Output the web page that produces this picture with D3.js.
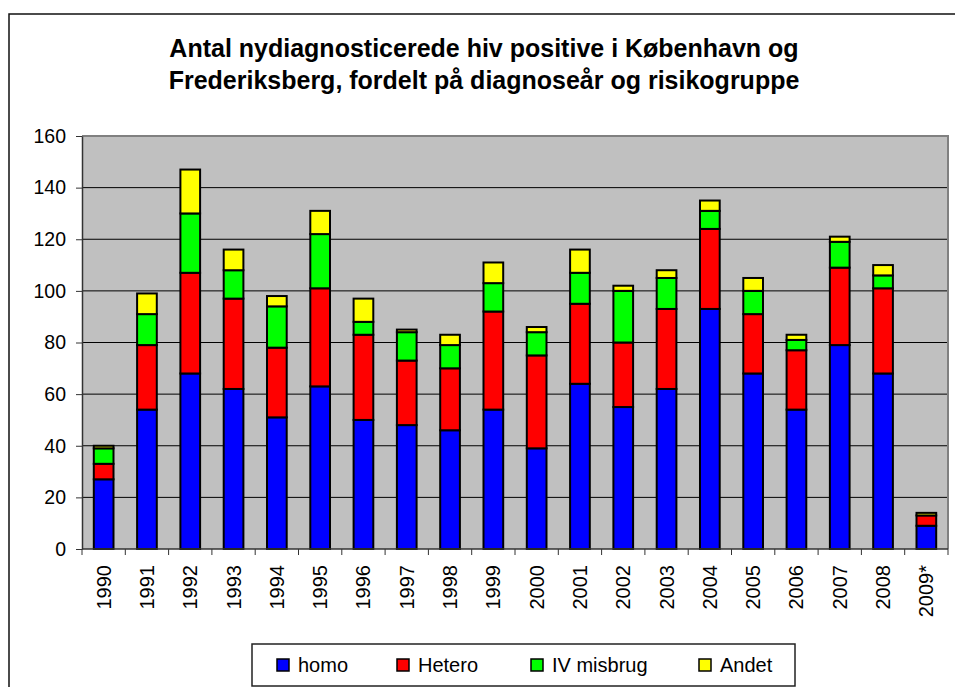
<!DOCTYPE html>
<html>
<head>
<meta charset="utf-8">
<script src="https://cdn.jsdelivr.net/npm/d3@7"></script>
<style>
  body { margin: 0; background: #fff; }
  text { font-family: Arial, "Liberation Sans", sans-serif; }
</style>
</head>
<body>
<div id="chart"></div>
<script>
// diagnoseår
var years = ["1990","1991","1992","1993","1994","1995","1996","1997","1998","1999",
             "2000","2001","2002","2003","2004","2005","2006","2007","2008","2009*"];
var homo   = [27,54,68,62,51,63,50,48,46,54,39,64,55,62,93,68,54,79,68,9];
var hetero = [6,25,39,35,27,38,33,25,24,38,36,31,25,31,31,23,23,30,33,4];
var ivMisbrug = [6,12,23,11,16,21,5,11,9,11,9,12,20,12,7,9,4,10,5,0];
var andet  = [1,8,17,8,4,9,9,1,4,8,2,9,2,3,4,5,2,2,4,1];
var seriesNames = ["homo","Hetero","IV misbrug","Andet"];
var yTicks = [0,20,40,60,80,100,120,140,160];
var titleLines = ["Antal nydiagnosticerede hiv positive i København og",
                  "Frederiksberg, fordelt på diagnoseår og risikogruppe"];

var W = 955, H = 687;
var margin = { left: 82, right: 7, top: 136, bottom: 138 };
var width = W - margin.left - margin.right;
var height = H - margin.top - margin.bottom;

var svg = d3.select("#chart").append("svg")
    .attr("width", W)
    .attr("height", H);

// outer chart frame
svg.append("rect")
    .attr("x", 9).attr("y", 14)
    .attr("width", W + 20).attr("height", H + 20)
    .attr("fill", "white")
    .attr("stroke", "#111").attr("stroke-width", 1.5);

var title = svg.append("text")
    .attr("x", 484).attr("y", 57)
    .attr("text-anchor", "middle")
    .attr("font-size", "25px")
    .attr("font-weight", "bold");
titleLines.forEach(function(t, i) {
  title.append("tspan").attr("x", 484).attr("dy", i == 0 ? 0 : 32).text(t);
});

var rows = years.map(function(y, i) {
  return { year: y, homo: homo[i], Hetero: hetero[i], "IV misbrug": ivMisbrug[i], Andet: andet[i] };
});

var color = d3.scaleOrdinal()
    .domain(seriesNames)
    .range(["#0000FF","#FF0000","#00FF00","#FFFF00"]);

var x = d3.scaleBand()
    .domain(years)
    .range([0, width])
    .paddingInner(0.545)
    .paddingOuter(0.2725);

var y = d3.scaleLinear()
    .domain([0, 160])
    .range([height, 0]);

var g = svg.append("g")
    .attr("transform", "translate(" + margin.left + "," + margin.top + ")");

g.append("rect")
    .attr("width", width).attr("height", height)
    .attr("fill", "#C0C0C0");

// gridlines
g.selectAll(".grid")
    .data(yTicks.filter(function(d) { return d > 0 && d < 160; }))
    .enter().append("line")
    .attr("class", "grid")
    .attr("x1", 0).attr("x2", width)
    .attr("y1", function(d) { return y(d); })
    .attr("y2", function(d) { return y(d); })
    .attr("stroke", "#000").attr("stroke-width", 1);

// plot border top/right in gray
g.append("path")
    .attr("d", "M0,0H" + width + "V" + height)
    .attr("fill", "none")
    .attr("stroke", "#808080").attr("stroke-width", 2);

var stack = d3.stack().keys(seriesNames);
var stacked = stack(rows);

g.selectAll(".serie")
    .data(stacked)
    .enter().append("g")
    .attr("class", "serie")
    .attr("fill", function(d) { return color(d.key); })
  .selectAll("rect")
    .data(function(d) { return d.filter(function(p) { return p[1] - p[0] > 0; }); })
    .enter().append("rect")
    .attr("x", function(d) { return x(d.data.year); })
    .attr("width", x.bandwidth())
    .attr("y", function(d) { return y(d[1]); })
    .attr("height", function(d) { return y(d[0]) - y(d[1]); })
    .attr("stroke", "#000").attr("stroke-width", 2);

// y axis
var yAxis = g.append("g")
    .call(d3.axisLeft(y).tickValues(yTicks).tickSize(6).tickSizeOuter(0));
yAxis.select(".domain").attr("stroke", "#333").attr("stroke-width", 1.5);
yAxis.selectAll(".tick line").attr("stroke", "#333");
yAxis.selectAll(".tick text")
    .attr("x", -16)
    .attr("font-size", "19.5px")
    .attr("fill", "#000");

// x axis, ticks on band boundaries
var xAxisG = g.append("g").attr("transform", "translate(0," + height + ")");
xAxisG.append("line")
    .attr("x1", 0).attr("x2", width)
    .attr("stroke", "#333").attr("stroke-width", 1.5);
var step = x.step();
xAxisG.selectAll(".xt")
    .data(d3.range(years.length + 1))
    .enter().append("line")
    .attr("x1", function(i) { return i * step; })
    .attr("x2", function(i) { return i * step; })
    .attr("y1", 0).attr("y2", 6)
    .attr("stroke", "#333");
xAxisG.selectAll(".xl")
    .data(years)
    .enter().append("text")
    .attr("transform", function(d) {
      return "translate(" + (x(d) + x.bandwidth() / 2 + 7) + ",16) rotate(-90)";
    })
    .attr("text-anchor", "end")
    .attr("font-size", "20px")
    .text(function(d) { return d; });

// legend
var legend = svg.append("g").attr("transform", "translate(252,644)");
legend.append("rect")
    .attr("width", 543).attr("height", 42)
    .attr("fill", "white")
    .attr("stroke", "#222").attr("stroke-width", 1.5);
var legendX = [25, 145, 279, 447];
seriesNames.forEach(function(s, i) {
  var lg = legend.append("g").attr("transform", "translate(" + legendX[i] + ",15)");
  lg.append("rect")
      .attr("width", 12).attr("height", 12)
      .attr("fill", color(s))
      .attr("stroke", "#000").attr("stroke-width", 1.5);
  lg.append("text")
      .attr("x", 21).attr("y", 13)
      .attr("font-size", "20px")
      .text(s);
});
</script>
</body>
</html>
